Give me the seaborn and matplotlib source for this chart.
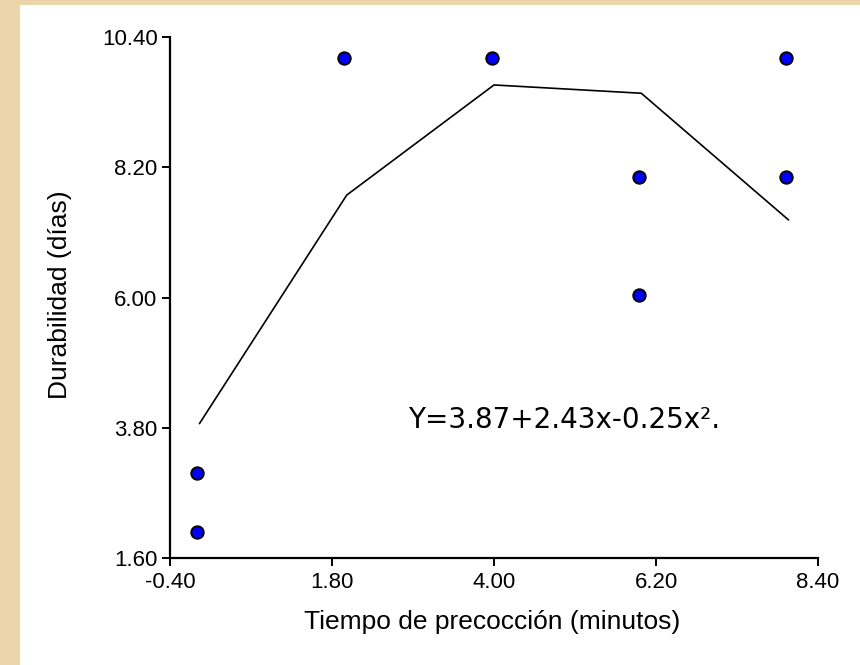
import numpy as np
import pandas as pd
import matplotlib
matplotlib.use("Agg")
import matplotlib.pyplot as plt
import matplotlib.transforms as mtransforms
import seaborn as sns
from matplotlib.patches import Rectangle

# ==============================
# DATA
# ==============================
obs_x = [0, 0, 2, 4, 6, 6, 8, 8]
obs_y = [3.0, 2.0, 10.0, 10.0, 8.0, 6.0, 10.0, 8.0]

fit_x = [0, 2, 4, 6, 8]
fit_y = [3.87, 7.73, 9.59, 9.45, 7.31]

ticks_x = [-0.40, 1.80, 4.00, 6.20, 8.40]
ticks_y = [1.60, 3.80, 6.00, 8.20, 10.40]

equation = "Y=3.87+2.43x-0.25x\u00b2."

obs = pd.DataFrame({"x": obs_x, "y": obs_y})
fit = pd.DataFrame({"x": fit_x, "y": fit_y})

# ==============================
# STYLE
# ==============================
sns.set_theme(style="white")
plt.rcParams["font.family"] = ["Liberation Sans", "DejaVu Sans"]

fig = plt.figure(figsize=(8.6, 6.65), dpi=100)
fig.patch.set_facecolor("#EBD5AA")
# white slide panel behind the axes
panel = Rectangle((20 / 860, 0), 1, 1 - 5 / 665, transform=fig.transFigure,
                  facecolor="white", edgecolor="none", zorder=-10)
fig.add_artist(panel)

ax = fig.add_axes([170 / 860, 1 - 558 / 665, (818 - 170) / 860, (558 - 37) / 665])
ax.set_facecolor("none")
ax.set_zorder(1)

# ==============================
# PLOT
# ==============================
sns.lineplot(data=fit, x="x", y="y", ax=ax, color="black", linewidth=1.2,
             estimator=None, sort=False)
sns.scatterplot(data=obs, x="x", y="y", ax=ax, color="#0000FF", edgecolor="black",
                linewidth=1.4, s=80, zorder=3)
# markers in the original sit a few pixels up-left of their nominal spot
ax.collections[-1].set_offset_transform(
    mtransforms.offset_copy(ax.transData, fig=fig, x=-2.5, y=2.5, units="dots"))

ax.set_xlim(ticks_x[0], ticks_x[-1])
ax.set_ylim(ticks_y[0], ticks_y[-1])
ax.set_xticks(ticks_x)
ax.set_yticks(ticks_y)
ax.set_xticklabels([f"{t:.2f}" for t in ticks_x])
ax.set_yticklabels([f"{t:.2f}" for t in ticks_y])

for s in ["top", "right"]:
    ax.spines[s].set_visible(False)
for s in ["left", "bottom"]:
    ax.spines[s].set_color("black")
    ax.spines[s].set_linewidth(1.6)

ax.tick_params(axis="both", direction="out", length=6, width=1.4, colors="black",
               labelsize=16, left=True, bottom=True)
ax.tick_params(axis="x", pad=4)
ax.tick_params(axis="y", pad=3)

ax.set_xlabel("Tiempo de precocción (minutos)", fontsize=19, color="black")
ax.set_ylabel("Durabilidad (días)", fontsize=19, color="black")
ax.xaxis.set_label_coords((492 - 170) / 648, (558 - 610) / 521)
ax.yaxis.set_label_coords((72 - 170) / 648, (558 - 295) / 521)

ax.text(2.83, 3.8, equation, fontsize=20, family="DejaVu Sans",
        va="baseline", ha="left", color="black")

fig.savefig("out.png", dpi=100)
